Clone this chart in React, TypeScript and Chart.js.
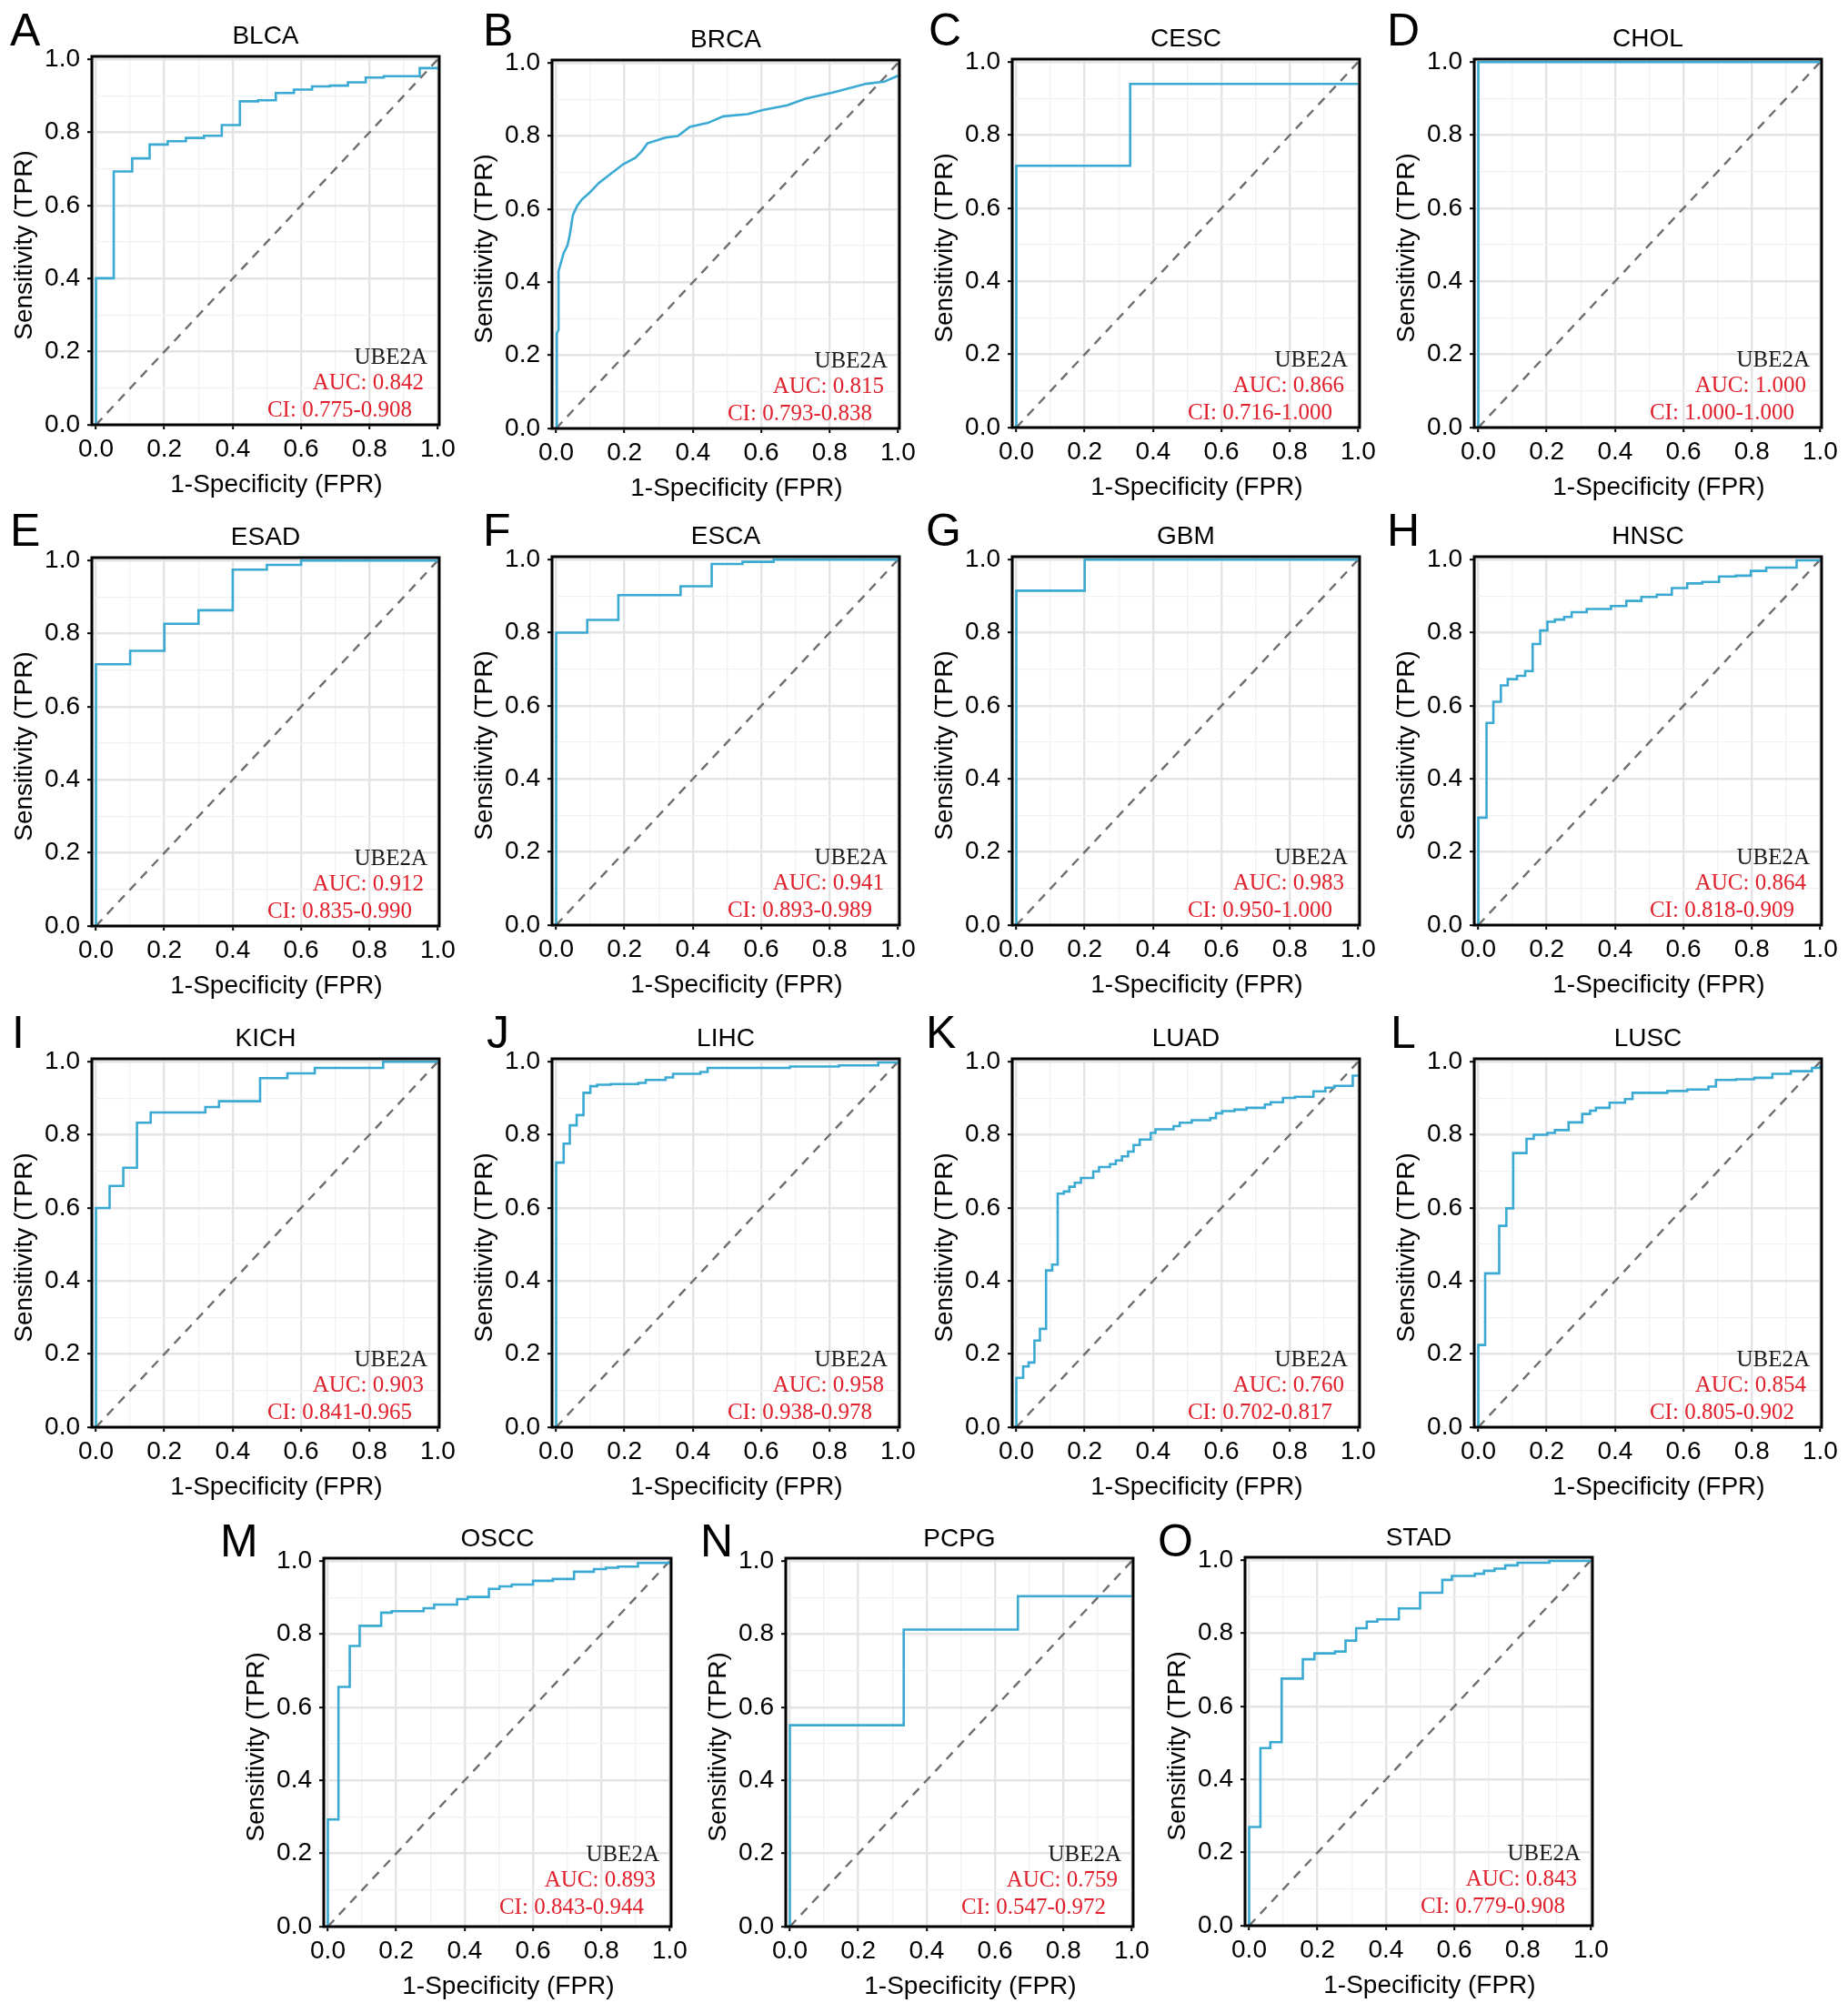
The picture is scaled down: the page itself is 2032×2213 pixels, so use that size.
import React, { useEffect, useRef } from 'react';
import { Chart, registerables } from 'chart.js';

Chart.register(...registerables);

// ---------------- data ----------------
const panelLetters = ['A', 'B', 'C', 'D', 'E', 'F', 'G', 'H', 'I', 'J', 'K', 'L', 'M', 'N', 'O'];
const cancerTypes = ['BLCA', 'BRCA', 'CESC', 'CHOL', 'ESAD', 'ESCA', 'GBM', 'HNSC', 'KICH', 'LIHC', 'LUAD', 'LUSC', 'OSCC', 'PCPG', 'STAD'];
const geneName = 'UBE2A';
const aucValues = [0.842, 0.815, 0.866, 1.0, 0.912, 0.941, 0.983, 0.864, 0.903, 0.958, 0.76, 0.854, 0.893, 0.759, 0.843];
const ciLower = [0.775, 0.793, 0.716, 1.0, 0.835, 0.893, 0.95, 0.818, 0.841, 0.938, 0.702, 0.805, 0.843, 0.547, 0.779];
const ciUpper = [0.908, 0.838, 1.0, 1.0, 0.99, 0.989, 1.0, 0.909, 0.965, 0.978, 0.817, 0.902, 0.944, 0.972, 0.908];

const axisTicks = [0, 0.1, 0.2, 0.3, 0.4, 0.5, 0.6, 0.7, 0.8, 0.9, 1.0];
const diagonalLine = [[0, 0], [1, 1]];

// ROC steps: [FPR at which TPR jumps, new TPR]
const blcaSteps = [[0, 0.401], [0.052, 0.693], [0.106, 0.729], [0.157, 0.767], [0.21, 0.776], [0.263, 0.785], [0.316, 0.791], [0.368, 0.82], [0.421, 0.885], [0.474, 0.888], [0.526, 0.908], [0.579, 0.917], [0.632, 0.926], [0.684, 0.928], [0.737, 0.937], [0.789, 0.95], [0.842, 0.954], [0.947, 0.976]];
// BRCA: dense curve, given as path points
const brcaPoints = [[0, 0], [0.002, 0], [0.002, 0.26], [0.007, 0.27], [0.007, 0.43], [0.013, 0.45], [0.022, 0.48], [0.033, 0.5], [0.04, 0.53], [0.049, 0.584], [0.062, 0.61], [0.076, 0.627], [0.098, 0.645], [0.124, 0.671], [0.16, 0.697], [0.196, 0.723], [0.231, 0.74], [0.249, 0.757], [0.267, 0.78], [0.32, 0.796], [0.356, 0.8], [0.391, 0.825], [0.444, 0.836], [0.489, 0.854], [0.56, 0.86], [0.604, 0.871], [0.676, 0.884], [0.729, 0.902], [0.809, 0.919], [0.862, 0.932], [0.907, 0.943], [0.96, 0.949], [1.0, 0.965]];
const cescSteps = [[0, 0.716], [0.333, 0.94]];
const cholSteps = [[0, 1.0]];
const esadSteps = [[0, 0.716], [0.1, 0.753], [0.2, 0.827], [0.3, 0.864], [0.4, 0.975], [0.5, 0.988], [0.6, 1.0]];
const escaSteps = [[0, 0.8], [0.091, 0.835], [0.182, 0.903], [0.364, 0.927], [0.455, 0.988], [0.545, 0.994], [0.636, 1.0]];
const gbmSteps = [[0, 0.915], [0.2, 1.0]];
const hnscSteps = [[0, 0.294], [0.024, 0.553], [0.044, 0.611], [0.066, 0.656], [0.086, 0.673], [0.113, 0.682], [0.137, 0.695], [0.159, 0.769], [0.181, 0.806], [0.202, 0.83], [0.224, 0.836], [0.251, 0.843], [0.273, 0.856], [0.317, 0.865], [0.388, 0.873], [0.433, 0.887], [0.477, 0.898], [0.522, 0.904], [0.566, 0.922], [0.611, 0.935], [0.655, 0.939], [0.704, 0.954], [0.753, 0.956], [0.797, 0.969], [0.842, 0.978], [0.931, 0.998], [1.0, 1.0]];
const kichSteps = [[0, 0.6], [0.04, 0.66], [0.08, 0.71], [0.12, 0.833], [0.16, 0.861], [0.32, 0.876], [0.36, 0.892], [0.48, 0.955], [0.56, 0.968], [0.64, 0.983], [0.84, 1.0]];
const lihcSteps = [[0, 0.724], [0.022, 0.776], [0.04, 0.826], [0.06, 0.854], [0.08, 0.915], [0.1, 0.933], [0.12, 0.937], [0.16, 0.939], [0.24, 0.942], [0.262, 0.95], [0.32, 0.957], [0.342, 0.967], [0.422, 0.972], [0.443, 0.983], [0.684, 0.987], [0.827, 0.99], [0.942, 0.998], [1.0, 1.0]];
const luadSteps = [[0, 0.135], [0.02, 0.166], [0.036, 0.177], [0.053, 0.237], [0.069, 0.269], [0.087, 0.429], [0.105, 0.445], [0.121, 0.639], [0.139, 0.645], [0.155, 0.658], [0.171, 0.669], [0.189, 0.682], [0.225, 0.7], [0.242, 0.712], [0.274, 0.72], [0.291, 0.73], [0.309, 0.741], [0.327, 0.754], [0.343, 0.772], [0.361, 0.787], [0.393, 0.805], [0.407, 0.815], [0.46, 0.824], [0.478, 0.833], [0.513, 0.84], [0.567, 0.846], [0.584, 0.859], [0.602, 0.865], [0.638, 0.869], [0.673, 0.874], [0.727, 0.883], [0.744, 0.889], [0.78, 0.901], [0.815, 0.904], [0.869, 0.919], [0.904, 0.929], [0.93, 0.934], [0.984, 0.962]];
const luscSteps = [[0, 0.225], [0.02, 0.421], [0.061, 0.551], [0.082, 0.599], [0.102, 0.75], [0.141, 0.789], [0.162, 0.8], [0.202, 0.805], [0.224, 0.813], [0.264, 0.834], [0.304, 0.857], [0.327, 0.866], [0.344, 0.874], [0.384, 0.888], [0.429, 0.898], [0.451, 0.915], [0.553, 0.92], [0.611, 0.924], [0.673, 0.932], [0.695, 0.95], [0.754, 0.952], [0.807, 0.956], [0.86, 0.967], [0.914, 0.974], [0.976, 0.983], [1.0, 0.99]];
const osccSteps = [[0, 0.293], [0.031, 0.656], [0.064, 0.768], [0.093, 0.823], [0.156, 0.859], [0.187, 0.863], [0.28, 0.871], [0.311, 0.881], [0.378, 0.896], [0.409, 0.902], [0.471, 0.924], [0.502, 0.931], [0.538, 0.936], [0.6, 0.946], [0.658, 0.951], [0.72, 0.971], [0.778, 0.978], [0.813, 0.982], [0.849, 0.985], [0.907, 0.995], [1.0, 1.0]];
const pcpgSteps = [[0, 0.551], [0.333, 0.8125], [0.667, 0.904]];
const stadSteps = [[0, 0.27], [0.033, 0.486], [0.062, 0.502], [0.095, 0.676], [0.157, 0.729], [0.191, 0.745], [0.251, 0.75], [0.282, 0.78], [0.313, 0.814], [0.344, 0.832], [0.375, 0.838], [0.438, 0.868], [0.5, 0.911], [0.565, 0.946], [0.593, 0.957], [0.66, 0.963], [0.687, 0.971], [0.718, 0.977], [0.749, 0.986], [0.785, 0.993], [0.878, 0.998], [1.0, 1.0]];

type Pt = { x: number; y: number };

function stairs(steps: number[][]): Pt[] {
  const pts: Pt[] = [{ x: 0, y: 0 }];
  let prev = 0;
  for (const [x, y] of steps) {
    pts.push({ x, y: prev });
    pts.push({ x, y });
    prev = y;
  }
  pts.push({ x: 1, y: prev });
  return pts;
}
const pathPts = (arr: number[][]): Pt[] => arr.map(([x, y]) => ({ x, y }));

const rocCurves: Pt[][] = [
  stairs(blcaSteps), pathPts(brcaPoints), stairs(cescSteps), stairs(cholSteps),
  stairs(esadSteps), stairs(escaSteps), stairs(gbmSteps), stairs(hnscSteps),
  stairs(kichSteps), stairs(lihcSteps), stairs(luadSteps), stairs(luscSteps),
  stairs(osccSteps), stairs(pcpgSteps), stairs(stadSteps),
];

// ---------------- layout ----------------
const ML = 20; // extra left margin inside each canvas
const CW = 526;
const CH = 552;
const PLOT_TOP = 62;
const YAXIS_W = 101;
const XAXIS_H = 85;
const PLOT_W = 383;
const colLefts = [0, 505.5, 1012, 1520];
const row4Lefts = [254.5, 762.5, 1267.5];
const rowTops = [0, 550, 1102, 1651];
const panelDy = [0, 4, 3, 3, 1, 0, 0, 0, 0, 0, 0, 0, 0, 0, -1];
const letterDx = [11, 25, 9, 5, 11, 25, 6, 5, 13, 29, 6, 9, -13, 7, 5];

const SANS = '"Liberation Sans", Arial, Helvetica, sans-serif';
const SERIF = '"Liberation Serif", "Times New Roman", serif';
const CURVE = '#3BAAD3';
const RED = '#E0202C';

const isMajor = (v: number) => Math.abs(Math.round(v * 10)) % 2 === 0;

function panelPos(i: number) {
  const row = Math.floor(i / 4);
  const col = i % 4;
  const left = row < 3 ? colLefts[col] : row4Lefts[col];
  return { row, left: left - ML, top: rowTops[row] + panelDy[i] };
}

function Panel({ index }: { index: number }) {
  const ref = useRef<HTMLCanvasElement | null>(null);
  const { row, left, top } = panelPos(index);

  useEffect(() => {
    if (!ref.current) return;
    const letterBase = (row === 3 ? 60 : 50) - panelDy[index];
    const titleY = row === 3 ? 41 : 40;
    const annDy = row === 3 ? -5 : 0;

    const decor = {
      id: 'decor' + index,
      afterDatasetsDraw(chart: any) {
        const { ctx, chartArea: ca } = chart;
        ctx.save();
        ctx.strokeStyle = '#000';
        ctx.lineWidth = 3;
        ctx.strokeRect(ca.left, ca.top, ca.right - ca.left, ca.bottom - ca.top);

        ctx.font = `25px ${SERIF}`;
        ctx.textAlign = 'right';
        ctx.textBaseline = 'alphabetic';
        ctx.fillStyle = '#1a1a1a';
        ctx.fillText(geneName, ca.right - 13, ca.bottom - 67 + annDy);
        ctx.fillStyle = RED;
        ctx.fillText('AUC: ' + aucValues[index].toFixed(3), ca.right - 17, ca.bottom - 39 + annDy);
        ctx.fillText('CI: ' + ciLower[index].toFixed(3) + '-' + ciUpper[index].toFixed(3), ca.right - 30, ca.bottom - 9 + annDy);

        ctx.fillStyle = '#000';
        ctx.font = `28px ${SANS}`;
        ctx.textAlign = 'center';
        ctx.textBaseline = 'middle';
        ctx.fillText(cancerTypes[index], (ca.left + ca.right) / 2, titleY);
        ctx.fillText('1-Specificity (FPR)', (ca.left + ca.right) / 2 + 12, ca.bottom + 66);
        ctx.save();
        ctx.translate(ML + 27, (ca.top + ca.bottom) / 2 + 5);
        ctx.rotate(-Math.PI / 2);
        ctx.fillText('Sensitivity (TPR)', 0, 0);
        ctx.restore();

        ctx.font = `50px ${SANS}`;
        ctx.textAlign = 'left';
        ctx.textBaseline = 'alphabetic';
        ctx.fillText(panelLetters[index], ML + letterDx[index], letterBase);
        ctx.restore();
      },
    };

    const gridOpts = {
      color: (c: any) => (c.tick && isMajor(c.tick.value) ? '#e4e4e4' : '#f1f1f1'),
      lineWidth: (c: any) => (c.tick && isMajor(c.tick.value) ? 2.4 : 1.3),
      tickColor: (c: any) => (c.tick && isMajor(c.tick.value) ? '#000' : 'rgba(0,0,0,0)'),
      tickWidth: 2,
      tickLength: 5,
      drawTicks: true,
    };
    const tickFont = { family: SANS, size: 28 };
    const setTicks = (s: any) => {
      s.ticks = axisTicks.map((v) => ({ value: v }));
    };
    const labelCb = (v: any) => (isMajor(Number(v)) ? Number(v).toFixed(1) : '');

    const chart = new Chart(ref.current, {
      type: 'line',
      data: {
        datasets: [
          {
            data: rocCurves[index],
            borderColor: CURVE,
            borderWidth: 2.6,
            pointRadius: 0,
            tension: 0,
            fill: false,
          },
          {
            data: pathPts(diagonalLine),
            borderColor: '#6e6e6e',
            borderWidth: 2.4,
            borderDash: [10, 8],
            pointRadius: 0,
            tension: 0,
            fill: false,
          },
        ],
      },
      options: {
        animation: false,
        responsive: false,
        maintainAspectRatio: false,
        devicePixelRatio: 1,
        events: [],
        layout: { padding: { left: ML, top: PLOT_TOP, right: CW - ML - YAXIS_W - PLOT_W, bottom: 0 } },
        plugins: { legend: { display: false }, tooltip: { enabled: false }, title: { display: false } },
        scales: {
          x: {
            type: 'linear',
            min: -0.012,
            max: 1.004,
            afterBuildTicks: setTicks,
            afterFit: (s: any) => { s.height = XAXIS_H; },
            ticks: { callback: labelCb, font: tickFont, color: '#000', padding: 5, maxRotation: 0, minRotation: 0, autoSkip: false },
            grid: gridOpts,
            border: { display: false },
          },
          y: {
            type: 'linear',
            min: 0,
            max: 1.008,
            afterBuildTicks: setTicks,
            afterFit: (s: any) => { s.width = YAXIS_W; },
            ticks: { callback: labelCb, font: tickFont, color: '#000', padding: 8, autoSkip: false },
            grid: gridOpts,
            border: { display: false },
          },
        },
      } as any,
      plugins: [decor],
    });
    return () => chart.destroy();
  }, [index, row]);

  return (
    <canvas
      ref={ref}
      width={CW}
      height={CH}
      style={{ position: 'absolute', left, top, width: CW, height: CH }}
    />
  );
}

export default function App() {
  return (
    <div style={{ position: 'absolute', left: 0, top: 0, width: 2032, height: 2213, background: '#fff', overflow: 'hidden' }}>
      {cancerTypes.map((_, i) => (
        <Panel key={i} index={i} />
      ))}
    </div>
  );
}
